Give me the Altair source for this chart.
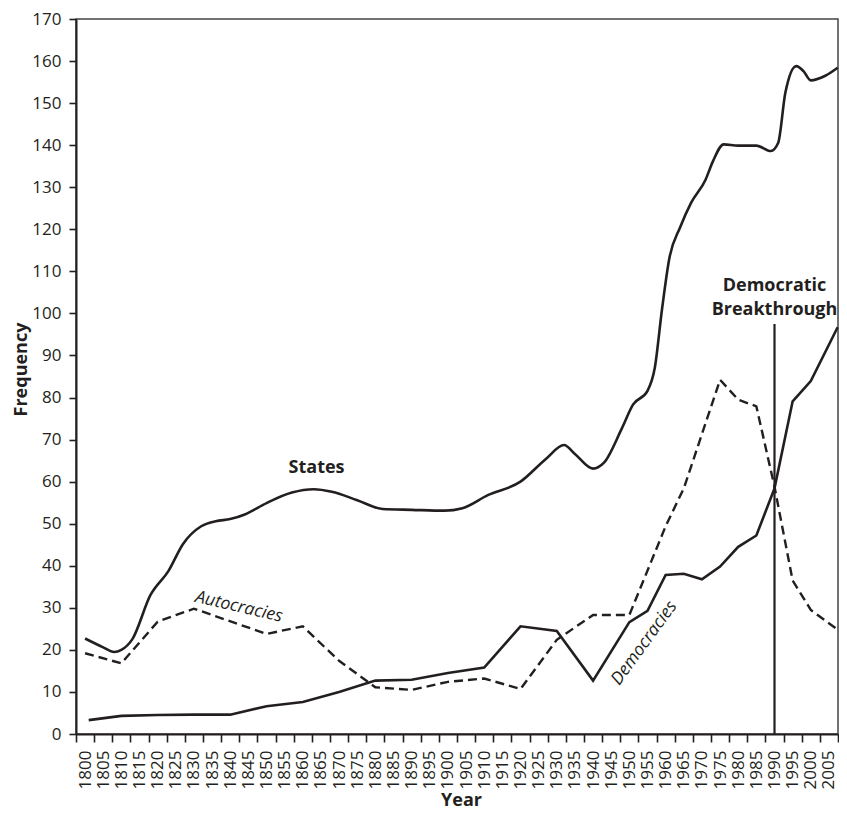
import altair as alt
import pandas as pd

# ---- data ----
state_years = [1800, 1805, 1808, 1810, 1813, 1818, 1823, 1827, 1832, 1836, 1840, 1844,
               1850, 1857, 1863, 1868, 1875, 1882, 1890, 1899, 1904, 1911, 1920, 1927,
               1932, 1935, 1940, 1943, 1948, 1951, 1955, 1957, 1959, 1961, 1964, 1967,
               1971, 1973, 1976, 1980, 1985, 1989, 1991, 1993, 1996, 1998, 2000, 2004, 2007.4]
state_values = [22.7, 20.6, 19.5, 20.0, 22.5, 33.0, 38.8, 45.2, 49.4, 50.6, 51.1, 52.2,
                54.9, 57.4, 58.2, 57.6, 55.6, 53.5, 53.3, 53.1, 53.7, 56.8, 60.0, 65.4,
                68.7, 66.6, 63.1, 64.5, 72.8, 78.3, 81.6, 87.0, 101.0, 113.0, 120.5, 126.3,
                131.8, 136.1, 140.2, 139.9, 139.9, 138.6, 140.5, 152.5, 158.8, 157.6, 155.4, 156.5, 158.4]

auto_years = [1800, 1810, 1820, 1830, 1850, 1860, 1870, 1880, 1890, 1900, 1910, 1920,
              1930, 1940, 1950, 1960, 1965, 1975, 1980, 1985, 1990, 1995, 2000, 2007.4]
auto_values = [19.2, 16.8, 26.7, 29.8, 23.8, 25.6, 17.4, 11.1, 10.5, 12.4, 13.2, 10.7,
               22.4, 28.3, 28.3, 49.4, 58.4, 84.2, 79.5, 77.9, 58.8, 36.5, 29.5, 24.8]

demo_years = [1801, 1810, 1820, 1830, 1840, 1850, 1860, 1870, 1880, 1890, 1900, 1910,
              1920, 1930, 1940, 1950, 1955, 1960, 1965, 1970, 1975, 1980, 1985, 1990,
              1995, 2000, 2007.4]
demo_values = [3.3, 4.3, 4.5, 4.6, 4.6, 6.6, 7.6, 10.0, 12.7, 12.9, 14.5, 15.8,
               25.6, 24.5, 12.7, 26.6, 29.3, 37.8, 38.1, 36.8, 39.8, 44.5, 47.2, 58.4,
               79.1, 83.9, 96.7]

label_years = list(range(1800, 2010, 5))
y_ticks = list(range(0, 171, 10))

breakthrough_year = [1990]
breakthrough_top = [97.5]

INK = "#231f20"
FONT = "Open Sans"

states = pd.DataFrame({"year": state_years, "value": state_values})
autoc = pd.DataFrame({"year": auto_years, "value": auto_values})
democ = pd.DataFrame({"year": demo_years, "value": demo_values})
rule_df = pd.DataFrame({"year": breakthrough_year, "value": [0], "top": breakthrough_top})

# ticks sit at band edges, labels at the year centres
tick_values = [y - 2.5 for y in label_years] + [label_years[-1] + 2.5]

x_scale = alt.Scale(domain=[1797.5, 2007.5], nice=False, zero=False)
y_scale = alt.Scale(domain=[0, 170], nice=False, zero=True)

x_axis = alt.Axis(
    values=tick_values,
    labelExpr="datum.value < 2007 ? format(datum.value + 2.5, 'd') : ''",
    labelOffset=9.07,
    labelAngle=270,
    labelFontSize=17,
    labelPadding=8,
    labelFlush=False,
    labelOverlap=False,
    labelBound=False,
    tickSize=8,
    title="Year",
    titleFontSize=18,
    titleFontWeight="bold",
    titleBaseline="alphabetic",
    titleX=385,
    titleY=71,
)
y_axis = alt.Axis(
    values=y_ticks,
    labelFontSize=17,
    labelPadding=8,
    labelFlush=False,
    labelOverlap=False,
    tickSize=7,
    title="Frequency",
    titleFontSize=18,
    titleFontWeight="bold",
    titleX=-46,
    titleY=350,
)

X = alt.X("year:Q", scale=x_scale, axis=x_axis)
Y = alt.Y("value:Q", scale=y_scale, axis=y_axis)

states_line = alt.Chart(states).mark_line(
    interpolate="monotone", color=INK, strokeWidth=2.6
).encode(x=X, y=Y)

auto_line = alt.Chart(autoc).mark_line(
    color=INK, strokeWidth=2.4, strokeDash=[9, 5]
).encode(x=X, y=Y)

demo_line = alt.Chart(democ).mark_line(
    color=INK, strokeWidth=2.6
).encode(x=X, y=Y)

rule = alt.Chart(rule_df).mark_rule(color=INK, strokeWidth=2.2).encode(
    x=X, y=Y, y2="top:Q"
)

def label(text, year, value, **kw):
    df = pd.DataFrame({"t": [text], "year": [year], "value": [value]})
    return alt.Chart(df).mark_text(color=INK, font=FONT, **kw).encode(
        x=X, y=Y, text="t:N"
    )

t_states = label("States", 1863.8, 63.3, fontSize=18, fontWeight="bold")
t_auto = label("Autocracies", 1842.4, 30.2, fontSize=17.5, fontStyle="italic", angle=13)
t_demo = label("Democracies", 1954.1, 21.6, fontSize=17.5, fontStyle="italic", angle=306)
t_db1 = label("Democratic", 1990, 106.4, fontSize=18, fontWeight="bold")
t_db2 = label("Breakthrough", 1990, 100.8, fontSize=18, fontWeight="bold")

chart = alt.layer(
    states_line, auto_line, demo_line, rule, t_states, t_auto, t_demo, t_db1, t_db2
).properties(
    width=762,
    height=715,
    autosize=alt.AutoSizeParams(type="none"),
    padding={"left": 68, "top": 11, "right": 1, "bottom": 76},
).configure_view(
    stroke="#444444", strokeWidth=1.5
).configure_axis(
    grid=False,
    domainColor=INK,
    domainWidth=2,
    tickColor=INK,
    tickWidth=1.6,
    labelColor=INK,
    titleColor=INK,
    labelFont=FONT,
    titleFont=FONT,
).configure_axisX(
    labelOverlap=False,
    labelFlush=False,
)

chart.save("out.html", embed_options={"renderer": "svg", "actions": False})
